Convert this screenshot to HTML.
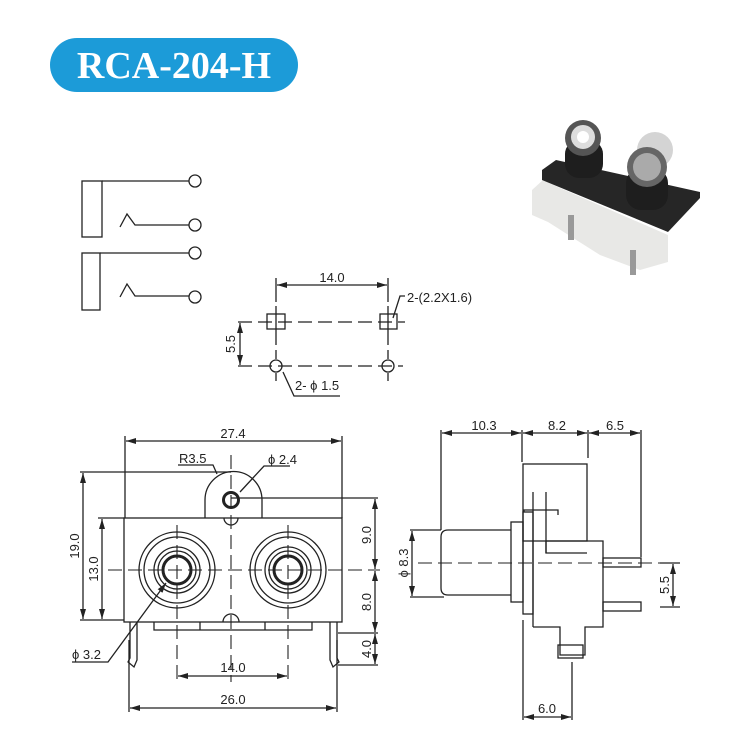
<!DOCTYPE html>
<html><head><meta charset="utf-8"><style>
html,body{margin:0;padding:0;background:#fff}
svg{display:block}
text{font-family:"Liberation Sans",sans-serif;font-size:13px;fill:#222}
</style></head><body>
<svg width="735" height="744" viewBox="0 0 735 744" xmlns="http://www.w3.org/2000/svg">
<defs>
<marker id="a" viewBox="0 0 10 6" refX="10" refY="3" markerWidth="10" markerHeight="6" orient="auto-start-reverse" markerUnits="userSpaceOnUse"><path d="M0,0L10,3L0,6z" fill="#222"/></marker>
</defs>
<rect x="50" y="38" width="248" height="54" rx="27" fill="#1c9bd8"/>
<text x="174" y="78" text-anchor="middle" style="font-family:'Liberation Serif',serif;font-weight:bold;font-size:38px;fill:#fff">RCA-204-H</text>

<!-- photo -->
<g>
<polygon points="543,180 560,188 668,235 668,262 640,270 600,255 548,222 532,215 532,190" fill="#e8e8e6"/>
<rect x="568" y="215" width="6" height="25" fill="#999"/>
<rect x="630" y="250" width="6" height="25" fill="#999"/>
<polygon points="542,170 556,160 700,192 700,198 668,232 542,180" fill="#262626"/>
<rect x="565" y="140" width="38" height="38" rx="14" fill="#1e1e1e"/>
<circle cx="583" cy="138" r="18" fill="#555"/>
<circle cx="583" cy="137" r="12" fill="#ddd"/>
<circle cx="583" cy="137" r="6" fill="#fff"/>
<circle cx="655" cy="150" r="18" fill="#d4d4d4"/>
<rect x="626" y="168" width="42" height="42" rx="15" fill="#1e1e1e"/>
<circle cx="647" cy="167" r="20" fill="#666"/>
<circle cx="647" cy="167" r="14" fill="#aaa"/>
</g>

<g fill="none" stroke="#222" stroke-width="1.3">
<!-- schematic -->
<rect x="82" y="181" width="20" height="56"/>
<path d="M102,181H189"/><circle cx="195" cy="181" r="6"/>
<path d="M120,227L127,214L135,225H189"/><circle cx="195" cy="225" r="6"/>
<rect x="82" y="253" width="18" height="57"/>
<path d="M100,253H189"/><circle cx="195" cy="253" r="6"/>
<path d="M120,297L127,284L135,296H189"/><circle cx="195" cy="297" r="6"/>

<!-- footprint -->
<path d="M276,278V302M388,278V302"/>
<path d="M277,285H387" marker-start="url(#a)" marker-end="url(#a)"/>
<path d="M238,322H405M238,366H403" stroke-dasharray="14,6"/>
<rect x="267" y="314" width="18" height="15"/><rect x="380" y="314" width="17" height="15"/>
<path d="M276,306V345M388,306V345M276,350V359M276,373V381M388,350V359M388,373V381"/>
<circle cx="276" cy="366" r="6"/><circle cx="388" cy="366" r="6"/>
<path d="M240,323V365" marker-start="url(#a)" marker-end="url(#a)"/>
<path d="M283,372L294,396H340"/>
<path d="M393,318L400,296H405"/>

<!-- front view -->
<path d="M125,436V518M342,436V518"/>
<path d="M126,441H341" marker-start="url(#a)" marker-end="url(#a)"/>
<rect x="124" y="518" width="218" height="104"/>
<path d="M205,518V500A28.5,28.5 0 0 1 262,500V518"/>
<circle cx="231" cy="500" r="7.5" stroke-width="3"/>
<path d="M224,518A7,7 0 0 0 238,518"/>
<path d="M223,622A8,8 0 0 1 239,622"/>
<g id="j"><circle cx="177" cy="570" r="38"/><circle cx="177" cy="570" r="33"/><circle cx="177" cy="570" r="23"/><circle cx="177" cy="570" r="19"/><circle cx="177" cy="570" r="14" stroke-width="3"/></g>
<use href="#j" x="111"/>
<path d="M108,570H380M231,455V682M177,525V682M288,525V682" stroke-dasharray="14,6" stroke-width="1.1"/>
<path d="M154,622V630H312V622M200,622V630M265,622V630"/>
<path d="M130,622V658L128,662L134,667L137,660V622M337,622V658L339,662L333,667L330,660V622"/>
<path d="M80,472H231M80,620H124M98,518H124M231,498H378M338,633H378M338,665H378"/>
<path d="M83,473V619" marker-start="url(#a)" marker-end="url(#a)"/>
<path d="M102,519V619" marker-start="url(#a)" marker-end="url(#a)"/>
<path d="M375,499V569" marker-start="url(#a)" marker-end="url(#a)"/>
<path d="M375,571V632" marker-start="url(#a)" marker-end="url(#a)"/>
<path d="M375,634V664" marker-start="url(#a)" marker-end="url(#a)"/>
<path d="M178,676H287" marker-start="url(#a)" marker-end="url(#a)"/>
<path d="M129,640V712M337,640V712"/>
<path d="M130,708H336" marker-start="url(#a)" marker-end="url(#a)"/>
<path d="M72,662H108L166,583" marker-end="url(#a)"/>
<path d="M178,465H213L217,474M290,466H264L240,492"/>

<!-- side view -->
<path d="M441,430V530M522,430V462M588,430V458M641,430V557"/>
<path d="M442,433H521" marker-start="url(#a)" marker-end="url(#a)"/>
<path d="M523,433H587" marker-start="url(#a)" marker-end="url(#a)"/>
<path d="M589,433H640" marker-start="url(#a)" marker-end="url(#a)"/>
<rect x="523" y="464" width="64" height="77"/>
<path d="M533,492V627M546,492V553"/>
<path d="M524,512V510H558V515"/>
<path d="M511,530H448Q441,530 441,537V588Q441,595 448,595H511"/>
<rect x="511" y="522" width="12" height="80"/>
<rect x="523" y="512" width="10" height="102"/>
<path d="M546,541H603V627H585V655H560V627H533"/>
<rect x="558" y="645" width="25" height="13"/>
<path d="M546,541V553H587"/>
<rect x="603" y="558" width="38" height="9"/>
<rect x="603" y="602" width="38" height="9"/>
<path d="M418,563H660" stroke-dasharray="14,6" stroke-width="1.1"/>
<path d="M410,530H441M410,597H444"/>
<path d="M412,531V596" marker-start="url(#a)" marker-end="url(#a)"/>
<path d="M660,563H680M660,607H680"/>
<path d="M673,564V606" marker-start="url(#a)" marker-end="url(#a)"/>
<path d="M523,620V720M572,662V720"/>
<path d="M524,717H571" marker-start="url(#a)" marker-end="url(#a)"/>
</g>

<text x="332" y="282" text-anchor="middle">14.0</text>
<text x="407" y="302">2-(2.2X1.6)</text>
<text x="295" y="390">2- ϕ 1.5</text>
<text transform="translate(235,344) rotate(-90)" text-anchor="middle">5.5</text>

<text x="233" y="438" text-anchor="middle">27.4</text>
<text x="179" y="463">R3.5</text>
<text x="268" y="464">ϕ 2.4</text>
<text transform="translate(79,546) rotate(-90)" text-anchor="middle">19.0</text>
<text transform="translate(98,569) rotate(-90)" text-anchor="middle">13.0</text>
<text transform="translate(371,535) rotate(-90)" text-anchor="middle">9.0</text>
<text transform="translate(371,602) rotate(-90)" text-anchor="middle">8.0</text>
<text transform="translate(371,649) rotate(-90)" text-anchor="middle">4.0</text>
<text x="233" y="672" text-anchor="middle">14.0</text>
<text x="233" y="704" text-anchor="middle">26.0</text>
<text x="72" y="659">ϕ 3.2</text>

<text x="484" y="430" text-anchor="middle">10.3</text>
<text x="557" y="430" text-anchor="middle">8.2</text>
<text x="615" y="430" text-anchor="middle">6.5</text>
<text transform="translate(408,563) rotate(-90)" text-anchor="middle">ϕ 8.3</text>
<text transform="translate(669,585) rotate(-90)" text-anchor="middle">5.5</text>
<text x="547" y="713" text-anchor="middle">6.0</text>
</svg>
</body></html>
